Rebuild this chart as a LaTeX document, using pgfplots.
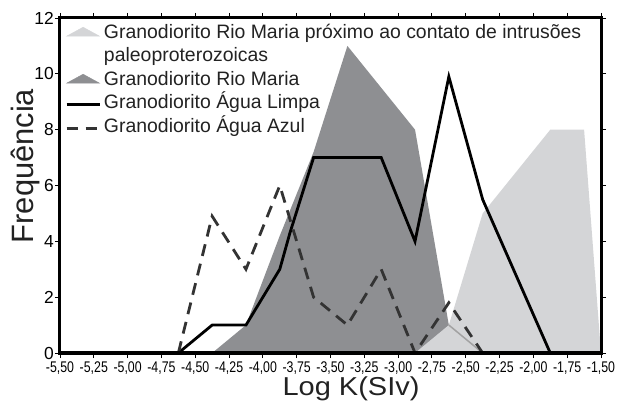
\documentclass[border=0pt]{standalone}
\usepackage{pgfplots}
\pgfplotsset{compat=1.18}
\usepackage{fontspec}
\setmainfont{Liberation Sans}
\usepackage{graphicx}

\definecolor{darkfill}{HTML}{8E8F92}
\definecolor{lightfill}{HTML}{D4D5D7}
\definecolor{edgegray}{HTML}{A2A2A2}
\definecolor{dashcol}{HTML}{333333}
\definecolor{legtext}{HTML}{222222}

\newcommand{\xt}[1]{\scalebox{0.8}[1]{#1}}

\begin{document}
\begin{tikzpicture}
\begin{axis}[
    scale only axis,
    width=541bp, height=335bp,
    xmin=-5.5, xmax=-1.5,
    ymin=0, ymax=12,
    axis on top,
    axis line style={line width=3bp},
    tick align=outside,
    xtick pos=both, ytick pos=both,
    major tick length=5bp,
    tick style={line width=0.9bp, black},
    xtick={-5.5,-5.25,-5,-4.75,-4.5,-4.25,-4,-3.75,-3.5,-3.25,-3,-2.75,-2.5,-2.25,-2,-1.75,-1.5},
    xticklabels={\xt{-5,50},\xt{-5,25},\xt{-5,00},\xt{-4,75},\xt{-4,50},\xt{-4,25},\xt{-4,00},\xt{-3,75},
        \xt{-3,50},\xt{-3,25},\xt{-3,00},\xt{-2,75},\xt{-2,50},\xt{-2,25},\xt{-2,00},\xt{-1,75},\xt{-1,50}},
    xticklabel style={font=\fontsize{15.5}{15.5}\selectfont, inner sep=0bp, yshift=-3.5bp},
    ytick={0,2,4,6,8,10,12},
    yticklabel style={/pgf/number format/assume math mode=true,
        font=\fontsize{17.5}{17.5}\selectfont, inner sep=0bp, xshift=-1bp},
    xlabel={\scalebox{1.12}[1]{Log K(SIv)}},
    xlabel style={at={(rel axis cs:0.538,0)}, anchor=base, yshift=-42bp,
        font=\fontsize{26}{26}\selectfont, text=legtext},
    ylabel={Frequência},
    ylabel style={at={(rel axis cs:0,0.558)}, anchor=base, yshift=26bp,
        font=\fontsize{31}{31}\selectfont, text=legtext},
    legend style={at={(rel axis cs:0,1)}, anchor=north west, xshift=5bp, yshift=-5bp,
        draw=none, fill=none, inner sep=0pt, row sep=3.5bp, column sep=2bp,
        font=\fontsize{19.5}{21}\selectfont, text=legtext,
        nodes={inner sep=1bp, text height=14bp, text depth=4bp}},
    legend cell align=left,
]
\coordinate (bl) at (rel axis cs:0,0);

% legend entries (drawn in the legend order of the reference)
\addlegendimage{legend image code/.code={\fill[lightfill] (0bp,-3bp) -- (16.5bp,6bp) -- (33bp,-3bp) -- cycle;}}
\addlegendentry{Granodiorito Rio Maria próximo ao contato de intrusões}
\addlegendimage{empty legend}
\addlegendentry{paleoproterozoicas}
\addlegendimage{legend image code/.code={\fill[darkfill] (0bp,-3bp) -- (16.5bp,6bp) -- (33bp,-3bp) -- cycle;}}
\addlegendentry{Granodiorito Rio Maria}
\addlegendimage{legend image code/.code={\draw[black, line width=2.8bp] (0bp,-1bp) -- (33bp,-1bp);}}
\addlegendentry{Granodiorito Água Limpa}
\addlegendimage{legend image code/.code={\draw[dashcol, line width=2.8bp, dash pattern=on 11bp off 8bp] (0bp,-1bp) -- (33bp,-1bp);}}
\addlegendentry{Granodiorito Água Azul}

% Granodiorito Rio Maria
\addplot[fill=darkfill, draw=none, forget plot] coordinates {
    (-4.375,0) (-4.125,1) (-3.875,4.2) (-3.625,7.2) (-3.375,11)
    (-3.125,9.5) (-2.875,8) (-2.625,1) (-2.375,0)
} \closedcycle;

% Granodiorito Rio Maria proximo ao contato
\addplot[fill=lightfill, draw=none, forget plot] coordinates {
    (-2.875,0) (-2.625,1) (-2.375,5) (-2.125,6.5) (-1.875,8) (-1.625,8) (-1.5,0)
} \closedcycle;

\addplot[edgegray, line width=1.5bp, forget plot] coordinates {(-2.625,1) (-2.375,0)};

% Granodiorito Agua Limpa
\addplot[black, line width=2.8bp, forget plot] coordinates {
    (-4.625,0) (-4.375,1) (-4.125,1) (-3.875,3) (-3.8,4.3) (-3.625,7)
    (-3.375,7) (-3.125,7) (-2.875,4) (-2.625,9.9) (-2.375,5.5) (-1.875,0)
};

% Granodiorito Agua Azul
\addplot[dashcol, line width=2.8bp, dash pattern=on 12bp off 8bp, forget plot] coordinates {
    (-4.625,0) (-4.375,4.9) (-4.125,3) (-3.875,6) (-3.625,2) (-3.375,1)
    (-3.125,3) (-2.875,0) (-2.625,1.8) (-2.375,0)
};
\end{axis}
\pgfresetboundingbox
\path (bl) ++(-60bp,-50bp) rectangle ++(619bp,403bp);
\end{tikzpicture}
\end{document}
